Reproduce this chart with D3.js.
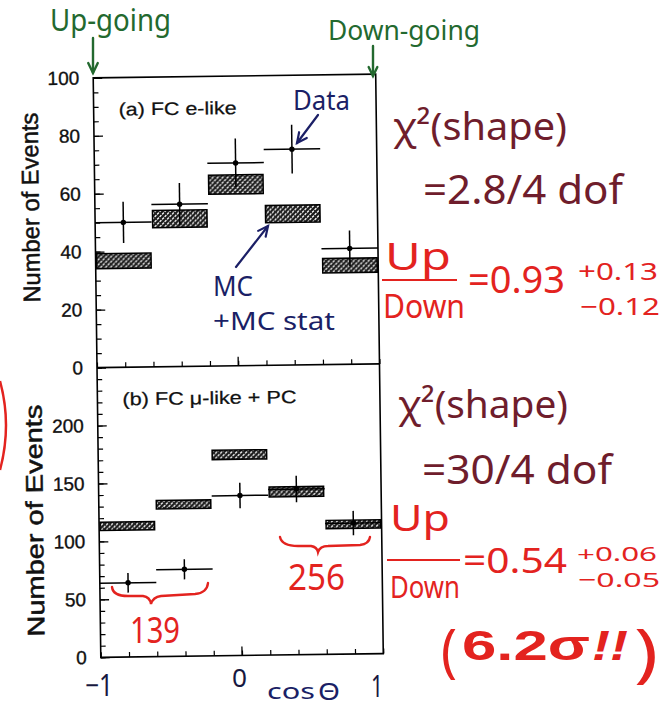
<!DOCTYPE html>
<html>
<head>
<meta charset="utf-8">
<script src="https://cdn.jsdelivr.net/npm/d3@7/dist/d3.min.js"></script>
<style>
  html, body { margin: 0; padding: 0; background: #fff; }
  svg { display: block; }
</style>
</head>
<body>
<svg id="chart" width="669" height="707"></svg>
<script>
// Zenith-angle distributions, 5 bins in cos(theta)
const binEdges   = [-1, -0.6, -0.2, 0.2, 0.6, 1];
const binCenters = [-0.8, -0.4, 0, 0.4, 0.8];

// (a) FC e-like
const eData   = [50, 56, 70, 74.5, 40];
const eErr    = [7.1, 7.3, 8.4, 8.4, 6.2];
const eMC     = [36.7, 51, 62.6, 52.2, 34.1];
const eMCErr  = [2.6, 3.0, 3.3, 3.0, 2.5];

// (b) FC mu-like + PC
const muData  = [64, 75, 138, 143, 113];
const muErr   = [8.5, 8.7, 11, 11.5, 10.5];
const muMC    = [113, 131, 173.3, 140.7, 112];
const muMCErr = [3.6, 3.6, 4.0, 4.3, 3.6];

// axis ticks
const eTicks    = [0, 20, 40, 60, 80, 100];
const muTicks   = [0, 50, 100, 150, 200];
const cosTicks  = [-1, -0.8, -0.6, -0.4, -0.2, 0, 0.2, 0.4, 0.6, 0.8, 1];

const svg = d3.select("#chart");
const FONT = "'Liberation Sans', Arial, sans-serif";
const HAND = "'Noto Sans', 'Open Sans', sans-serif";

// hatched fill for MC boxes
const defs = svg.append("defs");
const pat = defs.append("pattern").attr("id", "hatch")
  .attr("patternUnits", "userSpaceOnUse").attr("width", 5).attr("height", 5);
pat.append("rect").attr("width", 5).attr("height", 5).attr("fill", "#fff");
pat.append("path").attr("d", "M0,5 L5,0 M-1,1 L1,-1 M4,6 L6,4")
  .attr("stroke", "#111").attr("stroke-width", 2.1);
pat.append("path").attr("d", "M0,0 L5,5 M-1,4 L1,6 M4,-1 L6,1")
  .attr("stroke", "#222").attr("stroke-width", 1.2);

// frame geometry
const L = 97, R = 379.5, T = 76, M = 365.75, B = 655.5;
const x = d3.scaleLinear().domain([-1, 1]).range([L, R]);
const yA = d3.scaleLinear().domain([0, 100]).range([M, T]);
const yB = d3.scaleLinear().domain([0, 250]).range([B, M]);

const plot = svg.append("g").attr("transform", `rotate(-0.75, 238, 366)`);

function panel(y, ticks, minorStep, maxV, data, err, mc, mcErr, label, labelLen, titleLen, titleY) {
  const g = plot.append("g");
  // left axis: major + minor ticks pointing inward
  const minor = d3.range(0, maxV + 0.001, minorStep);
  g.append("g").attr("transform", `translate(${L},0)`)
    .call(d3.axisLeft(y).tickValues(minor).tickSizeInner(-5).tickSizeOuter(0).tickFormat(""))
    .call(a => a.select(".domain").remove())
    .call(a => a.selectAll("line").attr("stroke", "#000").attr("stroke-width", 1.2));
  g.append("g").attr("transform", `translate(${L},0)`)
    .call(d3.axisLeft(y).tickValues(ticks).tickSizeInner(-9).tickSizeOuter(0).tickPadding(14))
    .call(a => a.select(".domain").remove())
    .call(a => a.selectAll("line").attr("stroke", "#000").attr("stroke-width", 1.3))
    .call(a => a.selectAll("text").attr("font-family", FONT).attr("font-size", 19)
      .attr("fill", "#111").attr("stroke", "#111").attr("stroke-width", 0.35));
  // bottom ticks pointing up
  g.append("g").attr("transform", `translate(0,${y(0)})`)
    .call(d3.axisBottom(x).tickValues(cosTicks).tickSizeInner(-5).tickSizeOuter(0).tickFormat(""))
    .call(a => a.select(".domain").remove())
    .call(a => a.selectAll("line").attr("stroke", "#000").attr("stroke-width", 1.2));
  g.append("line").attr("x1", x(0)).attr("x2", x(0)).attr("y1", y(0)).attr("y2", y(0) - 9)
    .attr("stroke", "#000").attr("stroke-width", 1.3);

  // MC boxes
  g.selectAll("rect.mc").data(mc).join("rect").attr("class", "mc")
    .attr("x", (d, i) => x(binEdges[i]) + 1)
    .attr("width", (d, i) => x(binEdges[i + 1]) - x(binEdges[i]) - 2)
    .attr("y", (d, i) => y(d + mcErr[i]))
    .attr("height", (d, i) => y(d - mcErr[i]) - y(d + mcErr[i]))
    .attr("fill", "url(#hatch)").attr("stroke", "#000").attr("stroke-width", 1.5);

  // data points
  const pts = g.selectAll("g.pt").data(data).join("g").attr("class", "pt");
  pts.append("line")
    .attr("x1", (d, i) => x(binEdges[i])).attr("x2", (d, i) => x(binEdges[i + 1]))
    .attr("y1", d => y(d)).attr("y2", d => y(d))
    .attr("stroke", "#000").attr("stroke-width", 1.5);
  pts.append("line")
    .attr("x1", (d, i) => x(binCenters[i])).attr("x2", (d, i) => x(binCenters[i]))
    .attr("y1", (d, i) => y(d + err[i])).attr("y2", (d, i) => y(d - err[i]))
    .attr("stroke", "#000").attr("stroke-width", 1.5);
  pts.append("circle")
    .attr("cx", (d, i) => x(binCenters[i])).attr("cy", d => y(d)).attr("r", 2.7)
    .attr("fill", "#000");

  // panel label
  g.append("text").attr("x", L + 25).attr("y", y.range()[1] + 38)
    .attr("font-family", FONT).attr("font-size", 18).attr("fill", "#111")
    .attr("stroke", "#111").attr("stroke-width", 0.25)
    .attr("textLength", labelLen).attr("lengthAdjust", "spacingAndGlyphs")
    .text(label);

  // y title
  g.append("text")
    .attr("transform", `translate(${L - 56},${titleY}) rotate(-90)`)
    .attr("text-anchor", "middle")
    .attr("font-family", FONT).attr("font-size", 24).attr("fill", "#111")
    .attr("stroke", "#111").attr("stroke-width", 0.5)
    .attr("textLength", titleLen).attr("lengthAdjust", "spacingAndGlyphs")
    .text("Number of Events");
}

panel(yA, eTicks, 5, 100, eData, eErr, eMC, eMCErr, "(a) FC e-like", 118, 190, 205);
panel(yB, muTicks, 10, 250, muData, muErr, muMC, muMCErr, "(b) FC \u03bc-like + PC", 174, 232, 518);

// frame
plot.append("rect").attr("x", L).attr("y", T).attr("width", R - L).attr("height", B - T)
  .attr("fill", "none").attr("stroke", "#000").attr("stroke-width", 1.6);
plot.append("line").attr("x1", L).attr("x2", R).attr("y1", M).attr("y2", M)
  .attr("stroke", "#000").attr("stroke-width", 1.6);

// ---------- pen annotations ----------
const GREEN = "#23692f", MAROON = "#6f1d2c", RED = "#e3231f", NAVY = "#1b1f66";
const notes = svg.append("g");

function note(txt, px, py, size, color, len, opts = {}) {
  const t = notes.append("text").attr("x", px).attr("y", py)
    .attr("font-family", opts.family || HAND).attr("font-size", size)
    .attr("font-weight", opts.weight || 400).attr("font-style", opts.style || "normal")
    .attr("fill", color).text(txt);
  if (len) t.attr("textLength", len).attr("lengthAdjust", "spacingAndGlyphs");
  return t;
}
function arrow(x1, y1, x2, y2, color, w, head = 11) {
  const a = Math.atan2(y1 - y2, x1 - x2);
  const g = notes.append("g").attr("stroke", color).attr("stroke-width", w)
    .attr("fill", "none").attr("stroke-linecap", "round");
  g.append("line").attr("x1", x1).attr("y1", y1).attr("x2", x2).attr("y2", y2);
  const p = (s) => [x2 + head * Math.cos(a + s), y2 + head * Math.sin(a + s)];
  const h1 = p(0.45), h2 = p(-0.45);
  g.append("path").attr("d", `M${h1[0]},${h1[1]} L${x2},${y2} L${h2[0]},${h2[1]}`);
}

note("Up-going", 50, 31, 30, GREEN, 121);
note("Down-going", 328, 40, 27, GREEN, 152);
arrow(93, 38, 93, 73, GREEN, 2.4, 11);
arrow(373, 46, 373, 76, GREEN, 2.4, 10);

note("Data", 293, 110, 28, NAVY, 57);
arrow(318, 115, 297, 143, NAVY, 2.2, 11);
note("MC", 213, 296, 27, NAVY, 40);
note("+MC stat", 213, 330, 26, NAVY, 122);
arrow(236, 267, 268, 226, NAVY, 2.2, 11);

// right-hand notes, panel (a)
note("\u03c7\u00b2(shape)", 393, 140, 38, MAROON, 174);
note("=2.8/4 dof", 423, 204, 40, MAROON, 200);
note("Up", 385, 270, 38, RED, 66);
notes.append("line").attr("x1", 382).attr("x2", 457).attr("y1", 280).attr("y2", 280)
  .attr("stroke", RED).attr("stroke-width", 2.2);
note("Down", 383, 318, 32, RED, 82);
note("=0.93", 468, 293, 38, RED, 97);
note("+0.13", 578, 280, 23, RED, 80);
note("\u22120.12", 580, 315, 23, RED, 80);

// right-hand notes, panel (b)
note("\u03c7\u00b2(shape)", 398, 418, 38, MAROON, 170);
note("=30/4 dof", 422, 484, 40, MAROON, 190);
note("Up", 390, 531, 36, RED, 60);
notes.append("line").attr("x1", 387).attr("x2", 460).attr("y1", 560).attr("y2", 560)
  .attr("stroke", RED).attr("stroke-width", 2.2);
note("Down", 390, 598, 30, RED, 70);
note("=0.54", 463, 573, 35, RED, 104);
note("+0.06", 577, 561, 20, RED, 80);
note("\u22120.05", 578, 587, 20, RED, 82);
note("(", 441, 671, 58, RED, 16);
note("6.2\u03c3", 462, 660, 42, RED, 128, { weight: 700, family: FONT });
note("!!", 592, 660, 42, RED, 36, { weight: 700, style: "italic", family: FONT });
note(")", 634, 675, 64, RED, 24);

// braces grouping the up-going and down-going bins of panel (b)
notes.append("path")
  .attr("d", "M112,587 Q113,596 128,596 L143,596 Q150,597 151,604 Q153,597 161,596 L195,594 Q207,593 208,583")
  .attr("fill", "none").attr("stroke", RED).attr("stroke-width", 2.4).attr("stroke-linecap", "round");
notes.append("path")
  .attr("d", "M280,537 Q282,546 298,546 L311,546 Q317,547 318,552 Q320,546 328,546 L360,545 Q369,544 370,537")
  .attr("fill", "none").attr("stroke", RED).attr("stroke-width", 2.4).attr("stroke-linecap", "round");
note("139", 130, 643, 36, RED, 50);
note("256", 288, 590, 36, RED, 57);

// hand-written x labels
note("\u22121", 85, 696, 30, "#17183f", 28);
note("0", 232, 687, 26, "#17183f", 15);
note("1", 371, 697, 30, "#17183f", 12);
note("cos", 267, 699, 22, NAVY, 48);
note("\u0398", 318, 700, 24, NAVY, 22);

// stray circle edge at the left margin
notes.append("path").attr("d", "M0,381 Q12,425 0,470")
  .attr("fill", "none").attr("stroke", RED).attr("stroke-width", 2.5);
</script>
</body>
</html>
